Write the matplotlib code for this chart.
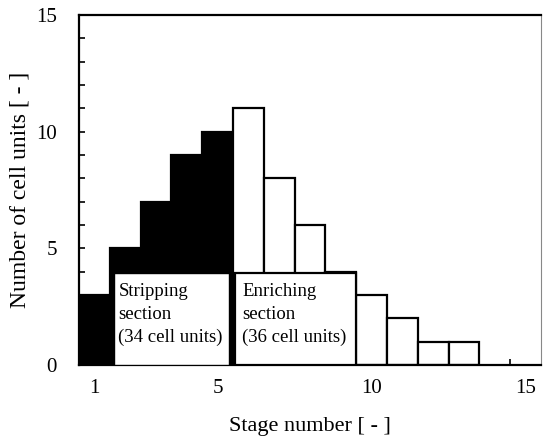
import matplotlib.pyplot as plt
from matplotlib.patches import Rectangle
from matplotlib.ticker import MultipleLocator, FixedLocator

# stage numbers and cell units per stage
stages_strip = [1, 2, 3, 4, 5]
cells_strip = [3, 5, 7, 9, 10]
stages_enrich = [6, 7, 8, 9, 10, 11, 12, 13]
cells_enrich = [11, 8, 6, 4, 3, 2, 1, 1]

x_ticks = [1, 5, 10, 15]
y_ticks = [0, 5, 10, 15]

plt.rcParams['font.family'] = ['Liberation Serif', 'DejaVu Serif']

fig = plt.figure(figsize=(5.43, 4.44), dpi=100)
ax = fig.add_axes([0.1455, 0.178, 0.851, 0.788])

ax.bar(stages_strip, cells_strip, width=1.0, color='black', edgecolor='black',
       linewidth=1.6, zorder=2)
ax.bar(stages_enrich, cells_enrich, width=1.0, color='white', edgecolor='black',
       linewidth=1.6, zorder=2)

# label boxes
box_top = 3.93
ax.add_patch(Rectangle((1.65, 0), 5.37 - 1.65, box_top, facecolor='white',
                       edgecolor='black', linewidth=1.0, zorder=3))
ax.add_patch(Rectangle((5.55, 0), 9.5 - 5.55, box_top, facecolor='white',
                       edgecolor='black', linewidth=1.6, zorder=3))
ax.text(1.78, 2.15, 'Stripping\nsection\n(34 cell units)', fontsize=13.5,
        va='center', ha='left', linespacing=1.45, zorder=4)
ax.text(5.8, 2.15, 'Enriching\nsection\n(36 cell units)', fontsize=13.5,
        va='center', ha='left', linespacing=1.45, zorder=4)

ax.set_xlim(0.5, 15.5)
ax.set_ylim(0, 15)

ax.xaxis.set_major_locator(FixedLocator(x_ticks))
ax.xaxis.set_minor_locator(FixedLocator([s + 0.5 for s in range(1, 15)]))
ax.yaxis.set_major_locator(FixedLocator(y_ticks))
ax.yaxis.set_minor_locator(MultipleLocator(1))

ax.tick_params(axis='x', which='major', length=0, pad=10, labelsize=15)
ax.tick_params(axis='x', which='minor', direction='in', length=4, width=1.2)
ax.tick_params(axis='y', which='major', direction='in', length=4, width=1.2,
               pad=16, labelsize=15)
ax.tick_params(axis='y', which='minor', direction='in', length=4, width=1.2)
for t in ax.xaxis.get_minor_ticks() + ax.yaxis.get_minor_ticks() + ax.yaxis.get_major_ticks():
    t.tick1line.set_zorder(5)
ax.set_axisbelow(False)

for side in ['left', 'bottom', 'top']:
    ax.spines[side].set_linewidth(1.6)
ax.spines['right'].set_linewidth(0.8)
ax.spines['right'].set_color('#888888')

ax.set_xlabel('Stage number [ - ]', fontsize=16, labelpad=14)
ax.set_ylabel('Number of cell units [ - ]', fontsize=17, labelpad=4)

fig.savefig('out.png', dpi=100)
